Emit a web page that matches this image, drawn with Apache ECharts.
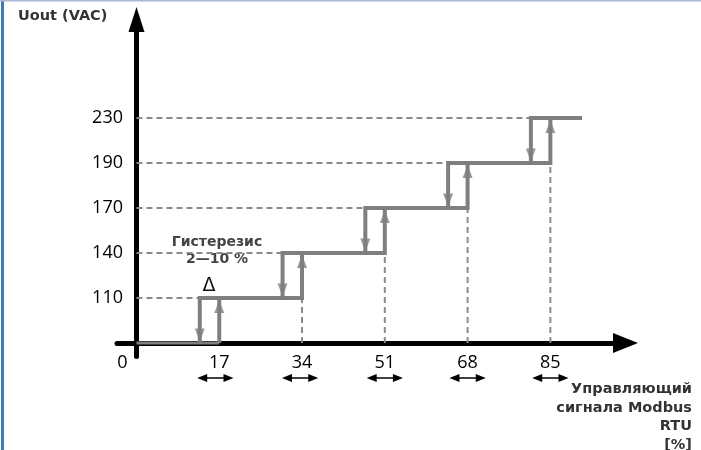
<!DOCTYPE html>
<html><head><meta charset="utf-8">
<script src="https://cdn.jsdelivr.net/npm/echarts@6/dist/echarts.min.js"></script>
<style>html,body{margin:0;padding:0;background:#fff}#c{width:701px;height:450px}</style>
</head><body><div id="c"></div>
<script>
// ---- data ----
const levelLabels = ['0', '110', '140', '170', '190', '230'];   // output voltage levels (equal spacing)
const levelIndex = [0, 1, 2, 3, 4, 5];
const thresholds = [17, 34, 51, 68, 85];                        // switch-up points, %
const xTickValues = [0, 17, 34, 51, 68, 85];
const downX = [13, 30, 47, 64, 81];                              // switch-down points, %
const lastStepEnd = 91.5;                                        // end of the 230 V step
const bandCenters = [16.2, 33.6, 51, 68, 85];                    // centres of hysteresis markers, %
const bandHalf = 2.7;                                            // half width of hysteresis markers, %
const bandLevel = -0.78;                                         // level of the hysteresis markers

const gray = '#7f7f7f';
const dashGray = '#8a8a8a';
const numFont = 'Open Sans';

// step paths
const stepPaths = [];
stepPaths.push({ coords: [[0, 0], [thresholds[0], 0]], lineStyle: { width: 3 } });
stepPaths.push({ coords: [[thresholds[0], 0], [thresholds[0], 1]] });
for (let i = 1; i <= 5; i++) {
  const d = downX[i - 1];
  const end = i < 5 ? thresholds[i] : lastStepEnd;
  const p = [[d, i - 1], [d, i], [end, i]];
  if (i < 5) p.push([end, i + 1]);
  stepPaths.push({ coords: p });
}
// dashed guides
const guides = [];
for (let i = 1; i <= 5; i++) guides.push({ coords: [[0, levelIndex[i]], [downX[i - 1], levelIndex[i]]] });
for (let k = 1; k < thresholds.length; k++) guides.push({ coords: [[thresholds[k], 0], [thresholds[k], levelIndex[k]]] });
// arrow heads
const upHeads = thresholds.map((t, k) => [t, levelIndex[k + 1]]);
const downHeads = downX.map((d, k) => [d, levelIndex[k]]);
// hysteresis markers
const bands = bandCenters.map(t => ({ coords: [[t - bandHalf, bandLevel], [t + bandHalf, bandLevel]] }));

const chart = echarts.init(document.getElementById('c'), null, { renderer: 'canvas' });
chart.setOption({
  animation: false,
  backgroundColor: '#fff',
  grid: { left: 117, right: 77.6, top: 28, bottom: 93.5 },
  xAxis: {
    type: 'value', min: -4, max: 100,
    splitLine: { show: false }, axisTick: { show: false },
    axisLine: { show: true, onZero: true, lineStyle: { color: '#000', width: 5 },
      symbol: ['none', 'triangle'], symbolSize: [20, 25], symbolOffset: [0, 2.1] },
    axisLabel: {
      customValues: xTickValues, margin: -3, fontSize: 18, fontFamily: numFont, color: '#000',
      formatter: v => v === 0 ? '{z|0}' : String(v),
      rich: { z: { fontSize: 18, fontFamily: numFont, color: '#000', padding: [0, 28, 0, 0] } }
    }
  },
  yAxis: {
    type: 'value', min: -0.3, max: 7,
    splitLine: { show: false }, axisTick: { show: false },
    axisLine: { show: true, onZero: true, lineStyle: { color: '#000', width: 5 },
      symbol: ['none', 'triangle'], symbolSize: [16, 25], symbolOffset: [0, 8.5] },
    axisLabel: {
      customValues: levelIndex.slice(1), margin: -6, fontSize: 18, fontFamily: numFont, color: '#000',
      formatter: v => levelLabels[v]
    }
  },
  series: [
    { type: 'lines', coordinateSystem: 'cartesian2d', polyline: true, z: 3,
      lineStyle: { color: dashGray, width: 2, type: [6, 4], opacity: 1 }, data: guides },
    { type: 'lines', coordinateSystem: 'cartesian2d', polyline: true, z: 4,
      lineStyle: { color: gray, width: 4, opacity: 1, join: 'miter', cap: 'butt' }, data: stepPaths },
    { type: 'scatter', z: 5, symbol: 'triangle', symbolSize: [10, 13], symbolOffset: [0, 8.5],
      itemStyle: { color: gray }, data: upHeads },
    { type: 'scatter', z: 5, symbol: 'triangle', symbolSize: [10, 13], symbolOffset: [0, -8],
      symbolRotate: 180, itemStyle: { color: gray }, data: downHeads },
    { type: 'lines', coordinateSystem: 'cartesian2d', clip: false, z: 5,
      symbol: ['triangle', 'triangle'], symbolSize: [[8, 10], [8, 10]],
      lineStyle: { color: '#000', width: 1.5, opacity: 1 }, data: bands }
  ],
  graphic: [
    { type: 'rect', shape: { x: 1, y: 0, width: 3, height: 450 }, style: { fill: '#3f7cb6' }, z: 10 },
    { type: 'rect', shape: { x: 0, y: 0, width: 701, height: 1.5 }, style: { fill: '#a9b9d9' }, z: 10 },
    { type: 'text', x: 18, y: 9, style: { text: 'Uout (VAC)', font: 'bold 14.5px "DejaVu Sans"', fill: '#333' } },
    { type: 'text', x: 692, y: 380, style: { text: 'Управляющий\nсигнала Modbus\nRTU\n[%]', font: 'bold 14.5px "DejaVu Sans"',
      fill: '#333', textAlign: 'right', lineHeight: 18.5 } },
    { type: 'text', x: 217, y: 234, style: { text: 'Гистерезис\n2—10 %', font: 'bold 14px "DejaVu Sans"',
      fill: '#444', textAlign: 'center', lineHeight: 17 } },
    { type: 'text', x: 209, y: 286, style: { text: 'Δ', font: '19px "DejaVu Sans"', fill: '#111',
      textAlign: 'center', textVerticalAlign: 'middle' } }
  ]
});
</script></body></html>
